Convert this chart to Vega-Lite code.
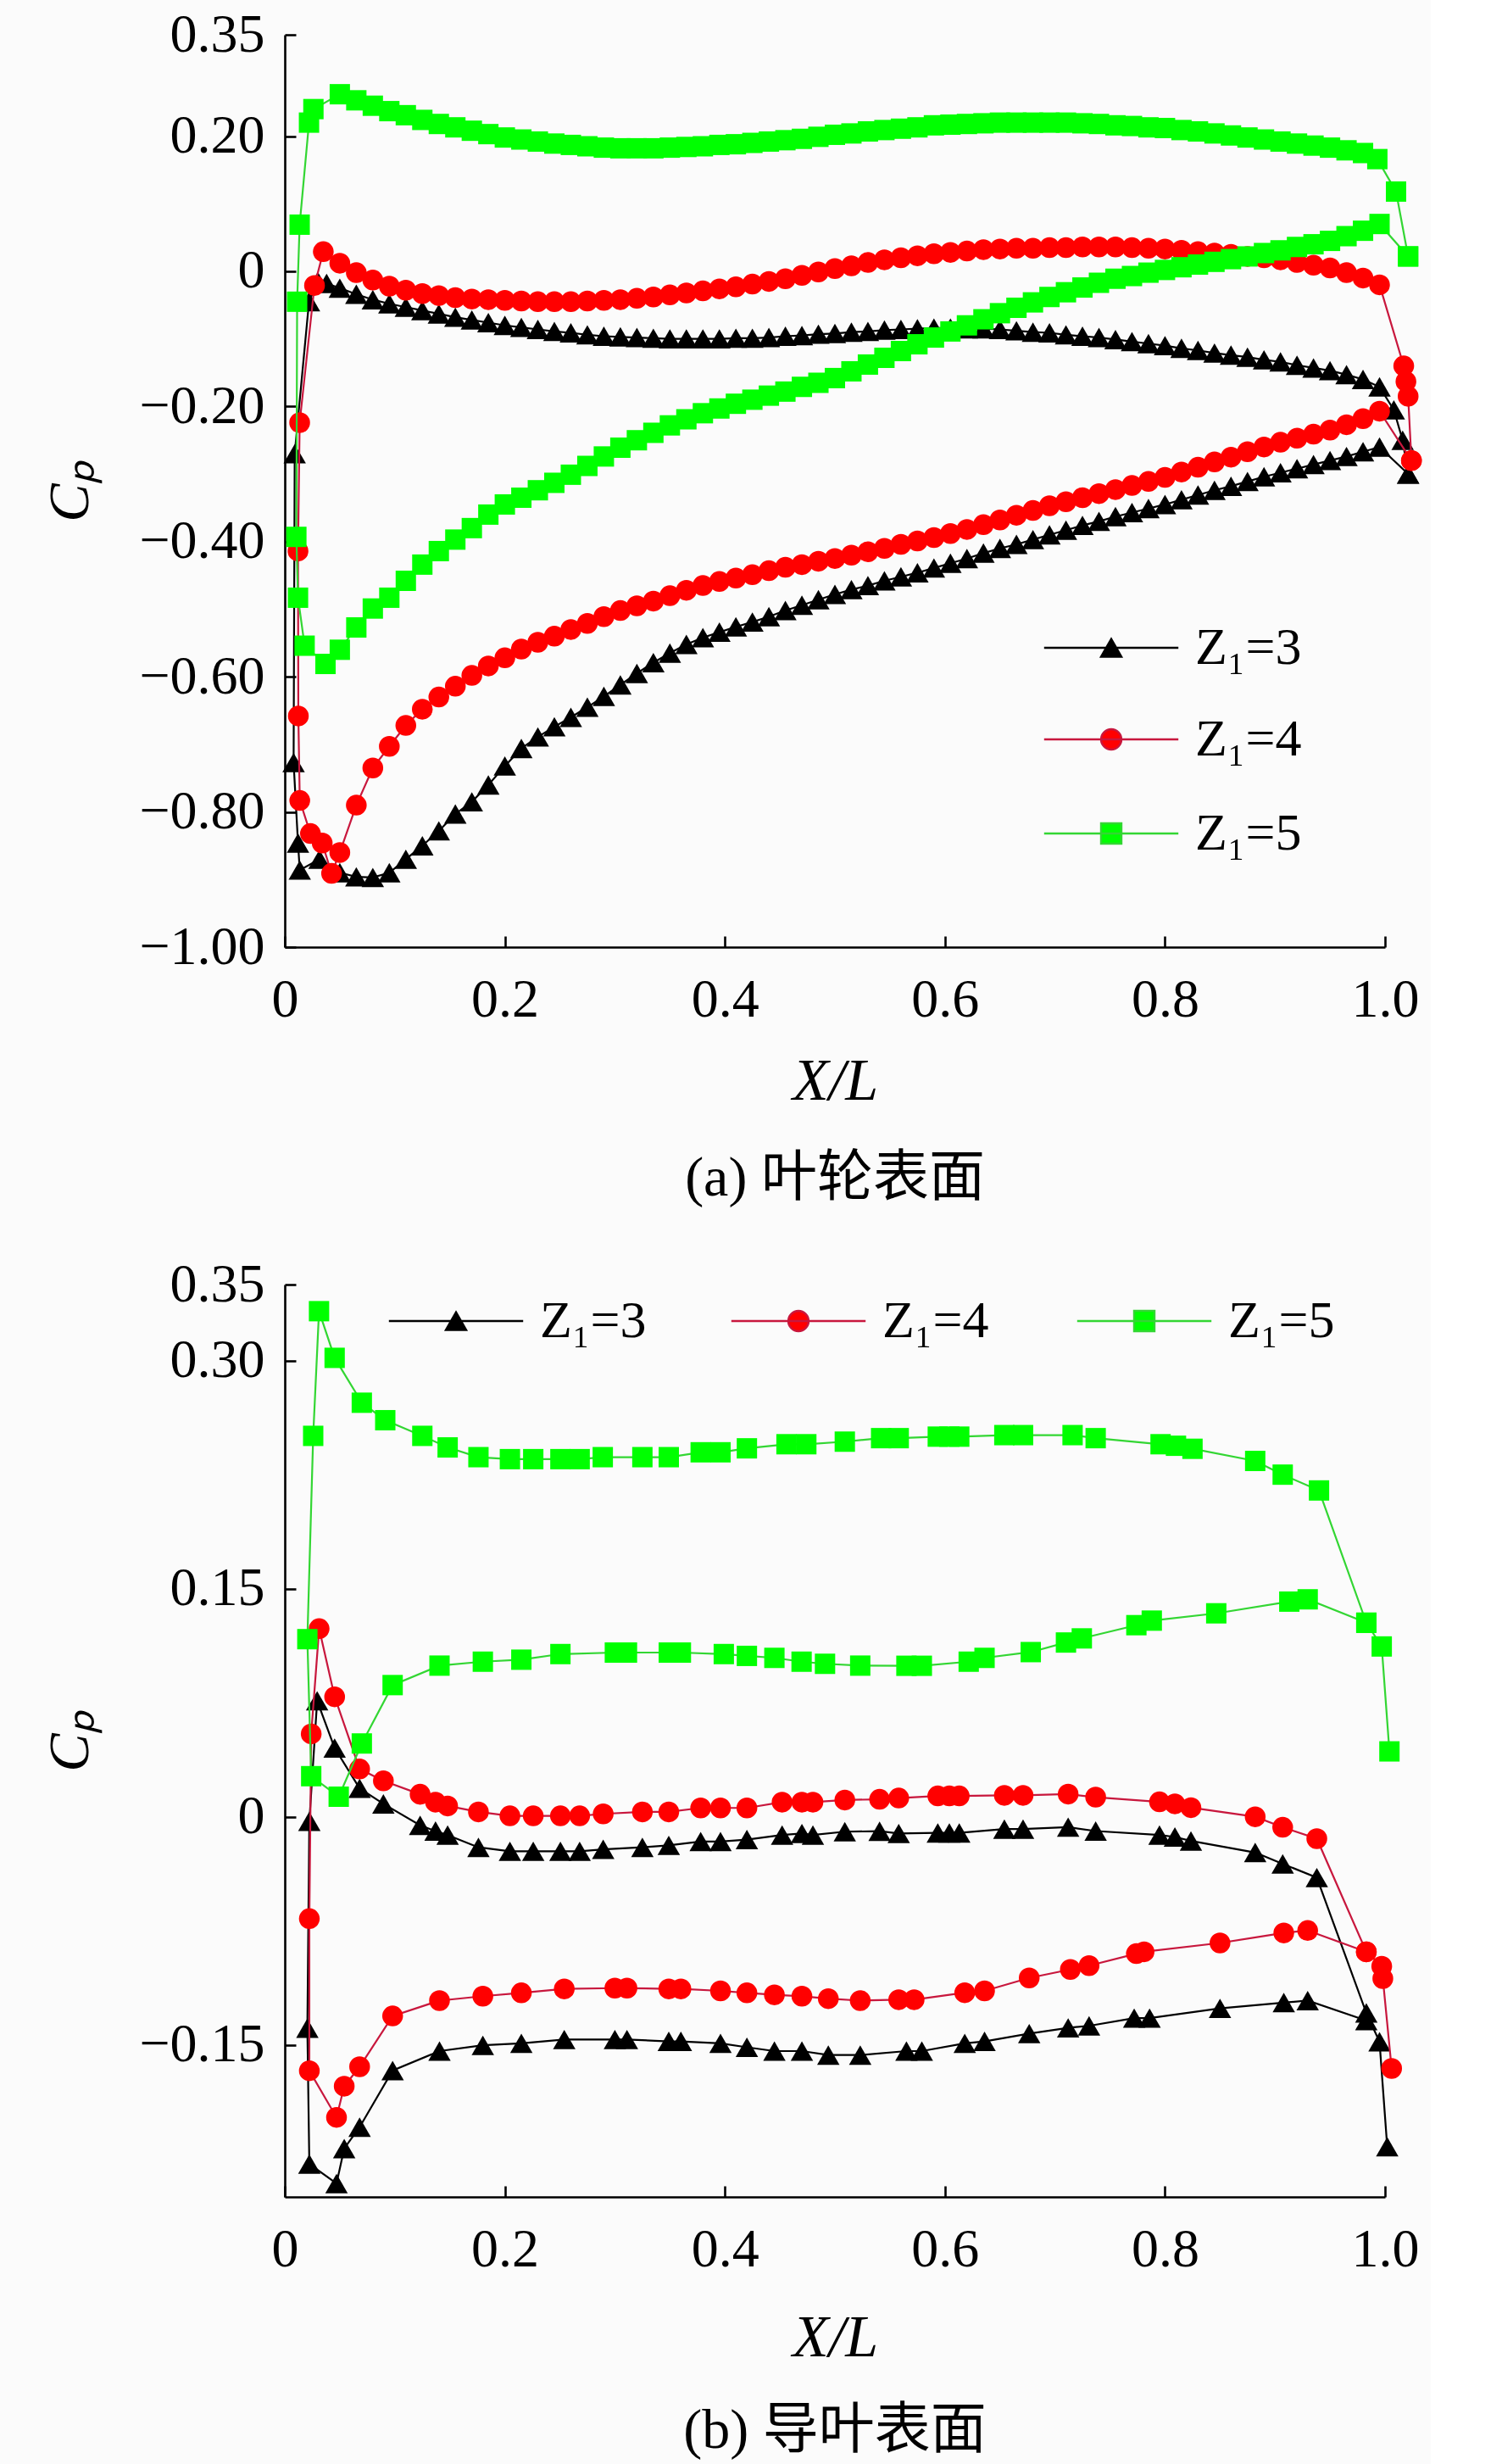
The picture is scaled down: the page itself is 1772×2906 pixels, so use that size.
{
  "$schema": "https://vega.github.io/schema/vega-lite/v6.json",
  "background": "#fbfbfb",
  "padding": {"left": 49, "top": 9, "right": 10, "bottom": 10},
  "config": {
    "view": {"stroke": null},
    "font": "Liberation Serif",
    "axis": {
      "domainColor": "#000", "domainWidth": 2.6, "tickColor": "#000", "tickWidth": 2.6, "tickSize": -13,
      "labelFont": "Liberation Serif", "labelFontSize": 64, "labelColor": "#000",
      "titleFont": "Liberation Serif", "titleColor": "#000", "titleFontWeight": "normal",
      "grid": false, "labelFlush": false, "labelOverlap": false
    },
    "axisX": {"labelPadding": 43, "titlePadding": 30, "titleFontSize": 70},
    "axisY": {"labelPadding": 37, "titlePadding": 46, "titleFontSize": 68},
    "legend": {
      "labelFont": "Liberation Serif", "labelFontSize": 62, "labelColor": "#000",
      "symbolSize": 576, "symbolStrokeWidth": 2.4, "labelOffset": 68, "padding": 0
    }
  },
  "datasets": {
    "a3": [
      {"x":1.021,"y":-0.3},{"x":1.016,"y":-0.25},{"x":1.008,"y":-0.205},
      {"x":0.995,"y":-0.171},{"x":0.98,"y":-0.16},{"x":0.965,"y":-0.153},{"x":0.95,"y":-0.147},{"x":0.935,"y":-0.143},{"x":0.92,"y":-0.139},{"x":0.905,"y":-0.134},{"x":0.89,"y":-0.131},{"x":0.875,"y":-0.127},{"x":0.86,"y":-0.124},{"x":0.845,"y":-0.121},{"x":0.83,"y":-0.117},{"x":0.815,"y":-0.114},{"x":0.8,"y":-0.11},{"x":0.785,"y":-0.107},{"x":0.77,"y":-0.104},{"x":0.755,"y":-0.101},{"x":0.74,"y":-0.098},{"x":0.725,"y":-0.096},{"x":0.71,"y":-0.094},{"x":0.695,"y":-0.091},{"x":0.68,"y":-0.09},{"x":0.665,"y":-0.088},{"x":0.65,"y":-0.086},{"x":0.635,"y":-0.085},{"x":0.62,"y":-0.085},{"x":0.605,"y":-0.084},{"x":0.59,"y":-0.084},{"x":0.575,"y":-0.085},{"x":0.56,"y":-0.086},{"x":0.545,"y":-0.087},{"x":0.53,"y":-0.089},{"x":0.515,"y":-0.09},{"x":0.5,"y":-0.092},{"x":0.485,"y":-0.093},{"x":0.47,"y":-0.095},{"x":0.455,"y":-0.096},{"x":0.44,"y":-0.098},{"x":0.425,"y":-0.099},{"x":0.41,"y":-0.099},{"x":0.395,"y":-0.1},{"x":0.38,"y":-0.1},{"x":0.365,"y":-0.1},{"x":0.35,"y":-0.1},{"x":0.335,"y":-0.099},{"x":0.32,"y":-0.098},{"x":0.305,"y":-0.097},{"x":0.29,"y":-0.096},{"x":0.275,"y":-0.094},{"x":0.26,"y":-0.091},{"x":0.245,"y":-0.089},{"x":0.23,"y":-0.086},{"x":0.215,"y":-0.083},{"x":0.2,"y":-0.08},{"x":0.185,"y":-0.076},{"x":0.17,"y":-0.072},{"x":0.155,"y":-0.068},{"x":0.14,"y":-0.063},{"x":0.125,"y":-0.058},{"x":0.11,"y":-0.053},{"x":0.095,"y":-0.048},{"x":0.08,"y":-0.042},{"x":0.065,"y":-0.034},{"x":0.05,"y":-0.025},
      {"x":0.038,"y":-0.018},{"x":0.03,"y":-0.015},{"x":0.022,"y":-0.045},{"x":0.009,"y":-0.27},{"x":0.008,"y":-0.727},{"x":0.012,"y":-0.846},{"x":0.0136,"y":-0.886},{"x":0.0315,"y":-0.87},
      {"x":0.05,"y":-0.89},{"x":0.065,"y":-0.896},{"x":0.08,"y":-0.897},{"x":0.095,"y":-0.89},{"x":0.11,"y":-0.87},{"x":0.125,"y":-0.85},{"x":0.14,"y":-0.828},{"x":0.155,"y":-0.803},{"x":0.17,"y":-0.785},{"x":0.185,"y":-0.76},{"x":0.2,"y":-0.732},{"x":0.215,"y":-0.706},{"x":0.23,"y":-0.689},{"x":0.245,"y":-0.674},{"x":0.26,"y":-0.66},{"x":0.275,"y":-0.645},{"x":0.29,"y":-0.629},{"x":0.305,"y":-0.612},{"x":0.32,"y":-0.595},{"x":0.335,"y":-0.579},{"x":0.35,"y":-0.565},{"x":0.365,"y":-0.552},{"x":0.38,"y":-0.542},{"x":0.395,"y":-0.534},{"x":0.41,"y":-0.526},{"x":0.425,"y":-0.519},{"x":0.44,"y":-0.511},{"x":0.455,"y":-0.502},{"x":0.47,"y":-0.494},{"x":0.485,"y":-0.486},{"x":0.5,"y":-0.478},{"x":0.515,"y":-0.471},{"x":0.53,"y":-0.465},{"x":0.545,"y":-0.458},{"x":0.56,"y":-0.452},{"x":0.575,"y":-0.446},{"x":0.59,"y":-0.439},{"x":0.605,"y":-0.432},{"x":0.62,"y":-0.425},{"x":0.635,"y":-0.417},{"x":0.65,"y":-0.41},{"x":0.665,"y":-0.404},{"x":0.68,"y":-0.397},{"x":0.695,"y":-0.39},{"x":0.71,"y":-0.383},{"x":0.725,"y":-0.376},{"x":0.74,"y":-0.37},{"x":0.755,"y":-0.363},{"x":0.77,"y":-0.357},{"x":0.785,"y":-0.351},{"x":0.8,"y":-0.345},{"x":0.815,"y":-0.338},{"x":0.83,"y":-0.331},{"x":0.845,"y":-0.324},{"x":0.86,"y":-0.318},{"x":0.875,"y":-0.311},{"x":0.89,"y":-0.304},{"x":0.905,"y":-0.298},{"x":0.92,"y":-0.292},{"x":0.935,"y":-0.286},{"x":0.95,"y":-0.28},{"x":0.965,"y":-0.274},{"x":0.98,"y":-0.267},{"x":0.995,"y":-0.26},
      {"x":1.021,"y":-0.3}
    ],
    "a4": [
      {"x":1.024,"y":-0.28},{"x":1.021,"y":-0.185},{"x":1.019,"y":-0.163},{"x":1.017,"y":-0.14},
      {"x":0.995,"y":-0.02},{"x":0.98,"y":-0.01},{"x":0.965,"y":-0.002},{"x":0.95,"y":0.005},{"x":0.935,"y":0.009},{"x":0.92,"y":0.013},{"x":0.905,"y":0.017},{"x":0.89,"y":0.02},{"x":0.875,"y":0.022},{"x":0.86,"y":0.025},{"x":0.845,"y":0.027},{"x":0.83,"y":0.029},{"x":0.815,"y":0.031},{"x":0.8,"y":0.033},{"x":0.785,"y":0.034},{"x":0.77,"y":0.035},{"x":0.755,"y":0.036},{"x":0.74,"y":0.036},{"x":0.725,"y":0.036},{"x":0.71,"y":0.035},{"x":0.695,"y":0.035},{"x":0.68,"y":0.034},{"x":0.665,"y":0.034},{"x":0.65,"y":0.033},{"x":0.635,"y":0.032},{"x":0.62,"y":0.03},{"x":0.605,"y":0.028},{"x":0.59,"y":0.026},{"x":0.575,"y":0.023},{"x":0.56,"y":0.02},{"x":0.545,"y":0.017},{"x":0.53,"y":0.013},{"x":0.515,"y":0.008},{"x":0.5,"y":0.004},{"x":0.485,"y":-0.001},{"x":0.47,"y":-0.006},{"x":0.455,"y":-0.011},{"x":0.44,"y":-0.015},{"x":0.425,"y":-0.019},{"x":0.41,"y":-0.023},{"x":0.395,"y":-0.026},{"x":0.38,"y":-0.029},{"x":0.365,"y":-0.032},{"x":0.35,"y":-0.035},{"x":0.335,"y":-0.038},{"x":0.32,"y":-0.04},{"x":0.305,"y":-0.042},{"x":0.29,"y":-0.043},{"x":0.275,"y":-0.044},{"x":0.26,"y":-0.045},{"x":0.245,"y":-0.045},{"x":0.23,"y":-0.045},{"x":0.215,"y":-0.044},{"x":0.2,"y":-0.043},{"x":0.185,"y":-0.042},{"x":0.17,"y":-0.041},{"x":0.155,"y":-0.039},{"x":0.14,"y":-0.036},{"x":0.125,"y":-0.033},{"x":0.11,"y":-0.028},{"x":0.095,"y":-0.022},{"x":0.08,"y":-0.013},{"x":0.065,"y":-0.002},{"x":0.05,"y":0.012},
      {"x":0.035,"y":0.029},{"x":0.027,"y":-0.021},{"x":0.0135,"y":-0.224},{"x":0.012,"y":-0.414},{"x":0.0123,"y":-0.658},{"x":0.0136,"y":-0.783},{"x":0.0233,"y":-0.832},{"x":0.034,"y":-0.846},{"x":0.0425,"y":-0.891},
      {"x":0.05,"y":-0.86},{"x":0.065,"y":-0.79},{"x":0.08,"y":-0.735},{"x":0.095,"y":-0.703},{"x":0.11,"y":-0.672},{"x":0.125,"y":-0.648},{"x":0.14,"y":-0.63},{"x":0.155,"y":-0.614},{"x":0.17,"y":-0.598},{"x":0.185,"y":-0.584},{"x":0.2,"y":-0.572},{"x":0.215,"y":-0.559},{"x":0.23,"y":-0.549},{"x":0.245,"y":-0.54},{"x":0.26,"y":-0.53},{"x":0.275,"y":-0.521},{"x":0.29,"y":-0.511},{"x":0.305,"y":-0.502},{"x":0.32,"y":-0.495},{"x":0.335,"y":-0.488},{"x":0.35,"y":-0.48},{"x":0.365,"y":-0.472},{"x":0.38,"y":-0.465},{"x":0.395,"y":-0.459},{"x":0.41,"y":-0.454},{"x":0.425,"y":-0.449},{"x":0.44,"y":-0.443},{"x":0.455,"y":-0.438},{"x":0.47,"y":-0.434},{"x":0.485,"y":-0.429},{"x":0.5,"y":-0.425},{"x":0.515,"y":-0.42},{"x":0.53,"y":-0.415},{"x":0.545,"y":-0.41},{"x":0.56,"y":-0.404},{"x":0.575,"y":-0.399},{"x":0.59,"y":-0.394},{"x":0.605,"y":-0.388},{"x":0.62,"y":-0.382},{"x":0.635,"y":-0.375},{"x":0.65,"y":-0.368},{"x":0.665,"y":-0.361},{"x":0.68,"y":-0.354},{"x":0.695,"y":-0.347},{"x":0.71,"y":-0.341},{"x":0.725,"y":-0.335},{"x":0.74,"y":-0.329},{"x":0.755,"y":-0.323},{"x":0.77,"y":-0.317},{"x":0.785,"y":-0.311},{"x":0.8,"y":-0.305},{"x":0.815,"y":-0.297},{"x":0.83,"y":-0.29},{"x":0.845,"y":-0.282},{"x":0.86,"y":-0.275},{"x":0.875,"y":-0.267},{"x":0.89,"y":-0.26},{"x":0.905,"y":-0.253},{"x":0.92,"y":-0.247},{"x":0.935,"y":-0.241},{"x":0.95,"y":-0.235},{"x":0.965,"y":-0.227},{"x":0.98,"y":-0.218},{"x":0.995,"y":-0.207},
      {"x":1.024,"y":-0.28}
    ],
    "a5": [
      {"x":1.021,"y":0.022},{"x":1.01,"y":0.118},
      {"x":0.993,"y":0.166},{"x":0.98,"y":0.175},{"x":0.965,"y":0.179},{"x":0.95,"y":0.183},{"x":0.935,"y":0.186},{"x":0.92,"y":0.189},{"x":0.905,"y":0.192},{"x":0.89,"y":0.195},{"x":0.875,"y":0.198},{"x":0.86,"y":0.201},{"x":0.845,"y":0.204},{"x":0.83,"y":0.207},{"x":0.815,"y":0.209},{"x":0.8,"y":0.212},{"x":0.785,"y":0.213},{"x":0.77,"y":0.215},{"x":0.755,"y":0.216},{"x":0.74,"y":0.218},{"x":0.725,"y":0.219},{"x":0.71,"y":0.22},{"x":0.695,"y":0.22},{"x":0.68,"y":0.22},{"x":0.665,"y":0.22},{"x":0.65,"y":0.22},{"x":0.635,"y":0.219},{"x":0.62,"y":0.218},{"x":0.605,"y":0.217},{"x":0.59,"y":0.216},{"x":0.575,"y":0.213},{"x":0.56,"y":0.211},{"x":0.545,"y":0.209},{"x":0.53,"y":0.207},{"x":0.515,"y":0.204},{"x":0.5,"y":0.202},{"x":0.485,"y":0.199},{"x":0.47,"y":0.196},{"x":0.455,"y":0.194},{"x":0.44,"y":0.192},{"x":0.425,"y":0.19},{"x":0.41,"y":0.188},{"x":0.395,"y":0.187},{"x":0.38,"y":0.185},{"x":0.365,"y":0.184},{"x":0.35,"y":0.183},{"x":0.335,"y":0.182},{"x":0.32,"y":0.182},{"x":0.305,"y":0.182},{"x":0.29,"y":0.183},{"x":0.275,"y":0.185},{"x":0.26,"y":0.187},{"x":0.245,"y":0.189},{"x":0.23,"y":0.192},{"x":0.215,"y":0.195},{"x":0.2,"y":0.198},{"x":0.185,"y":0.203},{"x":0.17,"y":0.208},{"x":0.155,"y":0.213},{"x":0.14,"y":0.218},{"x":0.125,"y":0.224},{"x":0.11,"y":0.231},{"x":0.095,"y":0.237},{"x":0.08,"y":0.245},{"x":0.065,"y":0.253},{"x":0.05,"y":0.262},
      {"x":0.026,"y":0.24},{"x":0.022,"y":0.22},{"x":0.0135,"y":0.069},{"x":0.0112,"y":-0.045},{"x":0.0105,"y":-0.393},{"x":0.012,"y":-0.483},{"x":0.018,"y":-0.554},{"x":0.037,"y":-0.581},
      {"x":0.05,"y":-0.56},{"x":0.065,"y":-0.527},{"x":0.08,"y":-0.499},{"x":0.095,"y":-0.483},{"x":0.11,"y":-0.458},{"x":0.125,"y":-0.434},{"x":0.14,"y":-0.414},{"x":0.155,"y":-0.397},{"x":0.17,"y":-0.38},{"x":0.185,"y":-0.36},{"x":0.2,"y":-0.345},{"x":0.215,"y":-0.335},{"x":0.23,"y":-0.324},{"x":0.245,"y":-0.313},{"x":0.26,"y":-0.301},{"x":0.275,"y":-0.288},{"x":0.29,"y":-0.274},{"x":0.305,"y":-0.261},{"x":0.32,"y":-0.25},{"x":0.335,"y":-0.239},{"x":0.35,"y":-0.228},{"x":0.365,"y":-0.219},{"x":0.38,"y":-0.21},{"x":0.395,"y":-0.203},{"x":0.41,"y":-0.196},{"x":0.425,"y":-0.19},{"x":0.44,"y":-0.184},{"x":0.455,"y":-0.178},{"x":0.47,"y":-0.171},{"x":0.485,"y":-0.165},{"x":0.5,"y":-0.158},{"x":0.515,"y":-0.148},{"x":0.53,"y":-0.138},{"x":0.545,"y":-0.128},{"x":0.56,"y":-0.118},{"x":0.575,"y":-0.108},{"x":0.59,"y":-0.098},{"x":0.605,"y":-0.089},{"x":0.62,"y":-0.08},{"x":0.635,"y":-0.071},{"x":0.65,"y":-0.062},{"x":0.665,"y":-0.054},{"x":0.68,"y":-0.046},{"x":0.695,"y":-0.038},{"x":0.71,"y":-0.031},{"x":0.725,"y":-0.024},{"x":0.74,"y":-0.017},{"x":0.755,"y":-0.011},{"x":0.77,"y":-0.007},{"x":0.785,"y":-0.002},{"x":0.8,"y":0.002},{"x":0.815,"y":0.006},{"x":0.83,"y":0.01},{"x":0.845,"y":0.014},{"x":0.86,"y":0.018},{"x":0.875,"y":0.022},{"x":0.89,"y":0.027},{"x":0.905,"y":0.031},{"x":0.92,"y":0.036},{"x":0.935,"y":0.04},{"x":0.95,"y":0.045},{"x":0.965,"y":0.052},{"x":0.98,"y":0.06},{"x":0.995,"y":0.07},
      {"x":1.021,"y":0.022}
    ],
    "b3": [
      {"x":1.002,"y":-0.217},{"x":0.995,"y":-0.148},{"x":0.983,"y":-0.129},
      {"x":0.938,"y":-0.04},{"x":0.907,"y":-0.031},{"x":0.882,"y":-0.0235},{"x":0.8236,"y":-0.0159},{"x":0.809,"y":-0.0133},{"x":0.795,"y":-0.012},{"x":0.737,"y":-0.0094},{"x":0.712,"y":-0.0068},{"x":0.671,"y":-0.0081},{"x":0.654,"y":-0.0081},{"x":0.613,"y":-0.0106},{"x":0.604,"y":-0.0106},{"x":0.5935,"y":-0.0106},{"x":0.558,"y":-0.011},{"x":0.5406,"y":-0.0095},{"x":0.509,"y":-0.0098},{"x":0.48,"y":-0.012},{"x":0.47,"y":-0.011},{"x":0.452,"y":-0.012},{"x":0.42,"y":-0.015},{"x":0.396,"y":-0.0163},{"x":0.378,"y":-0.0163},{"x":0.349,"y":-0.0188},{"x":0.325,"y":-0.0201},{"x":0.2894,"y":-0.0214},{"x":0.268,"y":-0.0227},{"x":0.2505,"y":-0.0227},{"x":0.2258,"y":-0.0227},{"x":0.2046,"y":-0.0227},{"x":0.176,"y":-0.0201},{"x":0.148,"y":-0.012},{"x":0.137,"y":-0.0094},{"x":0.123,"y":-0.0056},{"x":0.0896,"y":0.0085},{"x":0.068,"y":0.0187},{"x":0.0453,"y":0.0452},{"x":0.0294,"y":0.0763},
      {"x":0.0223,"y":-0.003},{"x":0.0205,"y":-0.139},
      {"x":0.0223,"y":-0.2284},{"x":0.047,"y":-0.2412},{"x":0.054,"y":-0.2182},{"x":0.068,"y":-0.2041},{"x":0.098,"y":-0.1669},{"x":0.1406,"y":-0.1541},{"x":0.18,"y":-0.1503},{"x":0.215,"y":-0.149},{"x":0.254,"y":-0.1465},{"x":0.3,"y":-0.1465},{"x":0.311,"y":-0.1465},{"x":0.349,"y":-0.1477},{"x":0.36,"y":-0.1477},{"x":0.396,"y":-0.149},{"x":0.42,"y":-0.1516},{"x":0.445,"y":-0.1541},{"x":0.47,"y":-0.1541},{"x":0.494,"y":-0.1567},{"x":0.523,"y":-0.1567},{"x":0.565,"y":-0.1541},{"x":0.579,"y":-0.1541},{"x":0.618,"y":-0.149},{"x":0.636,"y":-0.1477},{"x":0.6766,"y":-0.1426},{"x":0.712,"y":-0.1388},{"x":0.731,"y":-0.1375},{"x":0.772,"y":-0.1324},{"x":0.786,"y":-0.1324},{"x":0.85,"y":-0.126},{"x":0.908,"y":-0.1222},{"x":0.9297,"y":-0.1209},{"x":0.983,"y":-0.134}
    ],
    "b4": [
      {"x":1.006,"y":-0.1655},{"x":0.998,"y":-0.1064},{"x":0.997,"y":-0.0983},{"x":0.983,"y":-0.0888},
      {"x":0.938,"y":-0.0144},{"x":0.907,"y":-0.0069},{"x":0.882,"y":0.0},{"x":0.8236,"y":0.006},{"x":0.809,"y":0.0085},{"x":0.795,"y":0.0098},{"x":0.737,"y":0.0129},{"x":0.712,"y":0.0149},{"x":0.671,"y":0.0141},{"x":0.654,"y":0.0141},{"x":0.613,"y":0.0137},{"x":0.604,"y":0.0137},{"x":0.5935,"y":0.0137},{"x":0.558,"y":0.0123},{"x":0.5406,"y":0.0115},{"x":0.509,"y":0.011},{"x":0.48,"y":0.0096},{"x":0.47,"y":0.0096},{"x":0.452,"y":0.0096},{"x":0.42,"y":0.0058},{"x":0.396,"y":0.0058},{"x":0.378,"y":0.0058},{"x":0.349,"y":0.0032},{"x":0.325,"y":0.0032},{"x":0.2894,"y":0.0019},{"x":0.268,"y":0.0006},{"x":0.2505,"y":0.0006},{"x":0.2258,"y":0.0006},{"x":0.2046,"y":0.0006},{"x":0.176,"y":0.0032},{"x":0.148,"y":0.0071},{"x":0.137,"y":0.0096},{"x":0.123,"y":0.0148},{"x":0.0896,"y":0.0236},{"x":0.068,"y":0.0314},{"x":0.0453,"y":0.0789},{"x":0.0312,"y":0.1237},
      {"x":0.024,"y":0.0545},{"x":0.0223,"y":-0.067},
      {"x":0.0223,"y":-0.167},{"x":0.047,"y":-0.1977},{"x":0.054,"y":-0.1772},{"x":0.068,"y":-0.1644},{"x":0.098,"y":-0.131},{"x":0.1406,"y":-0.1209},{"x":0.18,"y":-0.118},{"x":0.215,"y":-0.1158},{"x":0.254,"y":-0.1132},{"x":0.3,"y":-0.1127},{"x":0.311,"y":-0.1127},{"x":0.349,"y":-0.1132},{"x":0.36,"y":-0.1132},{"x":0.396,"y":-0.1145},{"x":0.42,"y":-0.1158},{"x":0.445,"y":-0.1171},{"x":0.47,"y":-0.118},{"x":0.494,"y":-0.1196},{"x":0.523,"y":-0.1209},{"x":0.558,"y":-0.1203},{"x":0.572,"y":-0.1203},{"x":0.618,"y":-0.1157},{"x":0.636,"y":-0.1145},{"x":0.6766,"y":-0.106},{"x":0.714,"y":-0.1004},{"x":0.731,"y":-0.0979},{"x":0.774,"y":-0.09},{"x":0.781,"y":-0.0888},{"x":0.85,"y":-0.083},{"x":0.908,"y":-0.0764},{"x":0.9297,"y":-0.0748},{"x":0.983,"y":-0.0888}
    ],
    "b5": [
      {"x":1.004,"y":0.043},{"x":0.997,"y":0.112},{"x":0.983,"y":0.1276},
      {"x":0.94,"y":0.2146},{"x":0.907,"y":0.225},{"x":0.882,"y":0.234},{"x":0.825,"y":0.242},{"x":0.81,"y":0.244},{"x":0.796,"y":0.245},{"x":0.737,"y":0.249},{"x":0.716,"y":0.251},{"x":0.671,"y":0.251},{"x":0.654,"y":0.251},{"x":0.613,"y":0.25},{"x":0.604,"y":0.25},{"x":0.5935,"y":0.25},{"x":0.558,"y":0.249},{"x":0.542,"y":0.249},{"x":0.509,"y":0.2467},{"x":0.474,"y":0.245},{"x":0.456,"y":0.245},{"x":0.42,"y":0.2423},{"x":0.396,"y":0.2397},{"x":0.378,"y":0.2397},{"x":0.349,"y":0.2365},{"x":0.325,"y":0.2365},{"x":0.289,"y":0.2365},{"x":0.268,"y":0.2352},{"x":0.2505,"y":0.2352},{"x":0.2258,"y":0.2352},{"x":0.2046,"y":0.2352},{"x":0.176,"y":0.2365},{"x":0.148,"y":0.2429},{"x":0.125,"y":0.2505},{"x":0.0913,"y":0.2608},{"x":0.07,"y":0.2723},{"x":0.0453,"y":0.3018},{"x":0.0311,"y":0.3325},
      {"x":0.0258,"y":0.2505},{"x":0.0205,"y":0.1168},{"x":0.024,"y":0.0267},{"x":0.049,"y":0.0132},{"x":0.07,"y":0.0482},{"x":0.098,"y":0.0866},
      {"x":0.1406,"y":0.0994},{"x":0.18,"y":0.102},{"x":0.215,"y":0.1033},{"x":0.2505,"y":0.107},{"x":0.3,"y":0.108},{"x":0.311,"y":0.108},{"x":0.349,"y":0.108},{"x":0.36,"y":0.108},{"x":0.399,"y":0.107},{"x":0.42,"y":0.1058},{"x":0.445,"y":0.1045},{"x":0.4697,"y":0.102},{"x":0.491,"y":0.1006},{"x":0.523,"y":0.0994},{"x":0.565,"y":0.0993},{"x":0.579,"y":0.0993},{"x":0.6216,"y":0.102},{"x":0.636,"y":0.1045},{"x":0.678,"y":0.1083},{"x":0.71,"y":0.1146},{"x":0.7244,"y":0.1173},{"x":0.774,"y":0.126},{"x":0.788,"y":0.129},{"x":0.8466,"y":0.1338},{"x":0.913,"y":0.1415},{"x":0.9297,"y":0.143},{"x":0.983,"y":0.1276}
    ]
  },
  "spacing": 60,
  "resolve": {
    "scale": {"x": "independent", "y": "independent", "color": "independent"},
    "legend": {"color": "independent"}
  },
  "vconcat": [
    {
      "width": 1298,
      "height": 1076,
      "title": {"text": "(a) 叶轮表面", "orient": "bottom", "anchor": "middle", "frame": "group", "offset": 48, "font": "Liberation Serif, Noto Sans CJK SC", "fontSize": 66, "fontWeight": "normal", "color": "#000"},
      "encoding": {
        "x": {"field": "x", "type": "quantitative", "scale": {"domain": [0, 1], "nice": false, "zero": false},
              "axis": {"values": [0, 0.2, 0.4, 0.6, 0.8, 1], "labelExpr": "datum.value === 0 ? '0' : format(datum.value, '.1f')", "title": "X/L", "titleFontStyle": "italic"}},
        "y": {"field": "y", "type": "quantitative", "scale": {"domain": [-1, 0.35], "nice": false, "zero": false},
              "axis": {"values": [-1, -0.8, -0.6, -0.4, -0.2, 0, 0.2, 0.35], "labelExpr": "datum.value === 0 ? '0' : format(datum.value, '.2f')", "title": "Cₚ", "titleFontStyle": "italic"}}
      },
      "layer": [
        {"data": {"name": "a3"}, "mark": {"type": "line", "order": false, "color": "#000000", "strokeWidth": 2.2}, "encoding": {}},
        {"data": {"name": "a3"}, "mark": {"type": "point", "shape": "triangle-up", "filled": true, "size": 700, "opacity": 1},
         "encoding": {"color": {"datum": "Z₁=3", "scale": {"range": ["#000000"]},
           "legend": {"title": null, "orient": "none", "legendX": 944, "legendY": 692, "symbolType": "M-6.6,0H6.6M0,-0.87L1,0.87L-1,0.87Z", "symbolStrokeColor": "#000000"}}}},
        {"data": {"name": "a4"}, "mark": {"type": "line", "order": false, "color": "#c8173d", "strokeWidth": 2.2}, "encoding": {}},
        {"data": {"name": "a4"}, "mark": {"type": "point", "shape": "circle", "filled": true, "size": 600, "opacity": 1},
         "encoding": {"color": {"datum": "Z₁=4", "scale": {"range": ["#ff0000"]},
           "legend": {"title": null, "orient": "none", "legendX": 944, "legendY": 800, "symbolType": "M-6.6,0H6.6M1,0A1,1,0,1,1,-1,0A1,1,0,1,1,1,0Z", "symbolStrokeColor": "#c8173d"}}}},
        {"data": {"name": "a5"}, "mark": {"type": "line", "order": false, "color": "#33d633", "strokeWidth": 2.2}, "encoding": {}},
        {"data": {"name": "a5"}, "mark": {"type": "point", "shape": "square", "filled": true, "size": 576, "opacity": 1},
         "encoding": {"color": {"datum": "Z₁=5", "scale": {"range": ["#00ff00"]},
           "legend": {"title": null, "orient": "none", "legendX": 944, "legendY": 911, "symbolType": "M-6.6,0H6.6M-1,-1H1V1H-1Z", "symbolStrokeColor": "#33d633"}}}}
      ],
      "resolve": {"scale": {"color": "independent"}, "legend": {"color": "independent"}}
    },
    {
      "width": 1298,
      "height": 1076,
      "title": {"text": "(b) 导叶表面", "orient": "bottom", "anchor": "middle", "frame": "group", "offset": 43, "font": "Liberation Serif, Noto Sans CJK SC", "fontSize": 66, "fontWeight": "normal", "color": "#000"},
      "encoding": {
        "x": {"field": "x", "type": "quantitative", "scale": {"domain": [0, 1], "nice": false, "zero": false},
              "axis": {"values": [0, 0.2, 0.4, 0.6, 0.8, 1], "labelExpr": "datum.value === 0 ? '0' : format(datum.value, '.1f')", "title": "X/L", "titleFontStyle": "italic", "titlePadding": 38}},
        "y": {"field": "y", "type": "quantitative", "scale": {"domain": [-0.25, 0.35], "nice": false, "zero": false},
              "axis": {"values": [-0.15, 0, 0.15, 0.3, 0.35], "labelExpr": "datum.value === 0 ? '0' : format(datum.value, '.2f')", "title": "Cₚ", "titleFontStyle": "italic"}}
      },
      "layer": [
        {"data": {"name": "b3"}, "mark": {"type": "line", "order": false, "color": "#000000", "strokeWidth": 2.2}, "encoding": {}},
        {"data": {"name": "b3"}, "mark": {"type": "point", "shape": "triangle-up", "filled": true, "size": 700, "opacity": 1},
         "encoding": {"color": {"datum": "Z₁=3", "scale": {"range": ["#000000"]},
           "legend": {"title": null, "orient": "none", "legendX": 171, "legendY": 12, "symbolType": "M-6.6,0H6.6M0,-0.87L1,0.87L-1,0.87Z", "symbolStrokeColor": "#000000"}}}},
        {"data": {"name": "b4"}, "mark": {"type": "line", "order": false, "color": "#c8173d", "strokeWidth": 2.2}, "encoding": {}},
        {"data": {"name": "b4"}, "mark": {"type": "point", "shape": "circle", "filled": true, "size": 600, "opacity": 1},
         "encoding": {"color": {"datum": "Z₁=4", "scale": {"range": ["#ff0000"]},
           "legend": {"title": null, "orient": "none", "legendX": 575, "legendY": 12, "symbolType": "M-6.6,0H6.6M1,0A1,1,0,1,1,-1,0A1,1,0,1,1,1,0Z", "symbolStrokeColor": "#c8173d"}}}},
        {"data": {"name": "b5"}, "mark": {"type": "line", "order": false, "color": "#33d633", "strokeWidth": 2.2}, "encoding": {}},
        {"data": {"name": "b5"}, "mark": {"type": "point", "shape": "square", "filled": true, "size": 576, "opacity": 1},
         "encoding": {"color": {"datum": "Z₁=5", "scale": {"range": ["#00ff00"]},
           "legend": {"title": null, "orient": "none", "legendX": 983, "legendY": 12, "symbolType": "M-6.6,0H6.6M-1,-1H1V1H-1Z", "symbolStrokeColor": "#33d633"}}}}
      ],
      "resolve": {"scale": {"color": "independent"}, "legend": {"color": "independent"}}
    }
  ]
}
